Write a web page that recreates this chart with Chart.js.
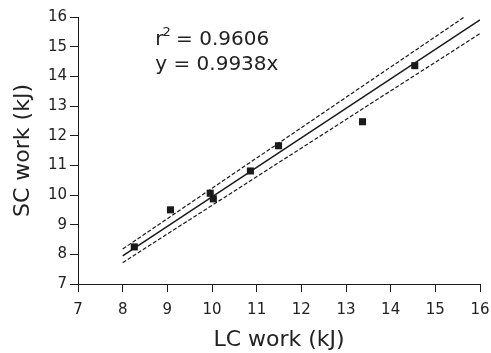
<!DOCTYPE html>
<html lang="en"><head>
  <meta charset="UTF-8">
  <title>SC work vs LC work</title>
  <script src="https://cdn.jsdelivr.net/npm/chart.js"></script>
  <style>
    html, body { margin: 0; padding: 0; background: #fff; }
    #wrap { width: 491px; height: 353px; }
  </style>
</head><body>
<div id="wrap"><canvas id="chart" width="491" height="353"></canvas></div>
<script>
  // measured points (LC work, SC work) in kJ
  const lcWork = [8.26, 9.07, 9.96, 10.03, 10.86, 11.49, 13.37, 14.54];
  const scWork = [8.25, 9.50, 10.06, 9.87, 10.81, 11.66, 12.47, 14.36];

  // regression y = 0.9938x and its 95% band, endpoints only
  const fitX = [8, 16];
  const fitY = [7.95, 15.90];
  const upperX = [8, 15.65];
  const upperY = [8.18, 16];
  const lowerX = [8, 16];
  const lowerY = [7.72, 15.44];

  const xTicks = [7, 8, 9, 10, 11, 12, 13, 14, 15, 16];
  const yTicks = [7, 8, 9, 10, 11, 12, 13, 14, 15, 16];

  const r2Text = '0.9606';
  const eqText = 'y = 0.9938x';
  const textAt = { x: 8.73, y: 15.06 };

  const ink = '#1a1a1a';
  const pairs = (xs, ys) => xs.map((x, i) => ({ x: x, y: ys[i] }));

  const annotation = {
    id: 'annotation',
    afterDatasetsDraw(chart) {
      const ctx = chart.ctx;
      const px = chart.scales.x.getPixelForValue(textAt.x);
      const py = chart.scales.y.getPixelForValue(textAt.y);
      ctx.save();
      ctx.fillStyle = '#222';
      ctx.textBaseline = 'alphabetic';
      ctx.textAlign = 'left';
      ctx.font = '20px "DejaVu Sans"';
      ctx.fillText('r', px, py);
      const rw = ctx.measureText('r').width;
      ctx.font = '13px "DejaVu Sans"';
      ctx.fillText('2', px + rw - 1, py - 9);
      const sw = ctx.measureText('2').width;
      ctx.font = '20px "DejaVu Sans"';
      ctx.fillText(' = ' + r2Text, px + rw + sw - 2, py);
      ctx.fillText(eqText, px, py + 25);
      ctx.restore();
    }
  };

  new Chart(document.getElementById('chart'), {
    type: 'scatter',
    data: {
      datasets: [
        {
          data: pairs(lcWork, scWork),
          pointStyle: 'rect',
          pointRadius: 5,
          backgroundColor: ink,
          borderColor: ink,
          borderWidth: 0
        },
        {
          data: pairs(fitX, fitY),
          showLine: true,
          pointRadius: 0,
          borderColor: ink,
          borderWidth: 1.5
        },
        {
          data: pairs(upperX, upperY),
          showLine: true,
          pointRadius: 0,
          borderColor: ink,
          borderWidth: 1.2,
          borderDash: [4, 2]
        },
        {
          data: pairs(lowerX, lowerY),
          showLine: true,
          pointRadius: 0,
          borderColor: ink,
          borderWidth: 1.2,
          borderDash: [4, 2]
        }
      ]
    },
    options: {
      responsive: false,
      animation: false,
      layout: { padding: { top: 17, right: 11, left: 0, bottom: 0 } },
      plugins: { legend: { display: false }, tooltip: { enabled: false } },
      scales: {
        x: {
          type: 'linear',
          min: 7, max: 16,
          afterBuildTicks: (s) => { s.ticks = xTicks.map(v => ({ value: v })); },
          afterFit: (s) => { s.height = 69; s.paddingLeft = 0; s.paddingRight = 0; },
          grid: { drawOnChartArea: false, tickLength: 8, color: ink, tickColor: ink },
          border: { color: ink, width: 1 },
          ticks: { color: '#222', padding: 9, font: { family: 'DejaVu Sans', size: 15 } },
          title: {
            display: true, text: 'LC work (kJ)', color: '#222',
            font: { family: 'DejaVu Sans', size: 22 },
            padding: { top: 0, bottom: 0 }
          }
        },
        y: {
          type: 'linear',
          min: 7, max: 16,
          afterBuildTicks: (s) => { s.ticks = yTicks.map(v => ({ value: v })); },
          afterFit: (s) => { s.width = 78; s.paddingTop = 0; s.paddingBottom = 0; },
          grid: { drawOnChartArea: false, tickLength: 8, color: ink, tickColor: ink },
          border: { color: ink, width: 1 },
          ticks: { color: '#222', padding: 3, font: { family: 'DejaVu Sans', size: 15 } },
          title: {
            display: true, text: 'SC work (kJ)', color: '#222',
            font: { family: 'DejaVu Sans', size: 22 },
            padding: { top: 10, bottom: 0 }
          }
        }
      }
    },
    plugins: [annotation]
  });
</script>
</body></html>
